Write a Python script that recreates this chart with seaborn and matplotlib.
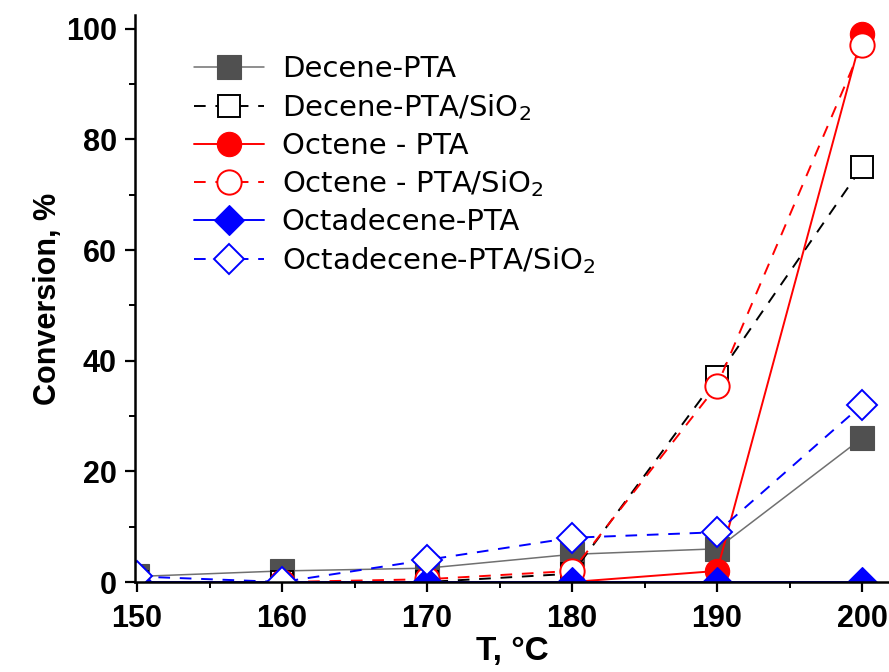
import numpy as np
import pandas as pd
import matplotlib
matplotlib.use("Agg")
import matplotlib.pyplot as plt
from matplotlib.ticker import MultipleLocator
import seaborn as sns

# Temperatures and conversions
temps = [150, 160, 170, 180, 190, 200]
decene_pta = [1, 2, 2.5, 5, 6, 26]
decene_pta_sio2 = [0, 0, 0, 1.5, 37, 75]
octene_pta = [0, 0, 0, 0, 2, 99]
octene_pta_sio2 = [0, 0, 0.5, 2, 35.5, 97]
octadecene_pta = [0, 0, 0, 0, 0, 0]
octadecene_pta_sio2 = [1, 0, 4, 8, 9, 32]

labels = ["Decene-PTA", "Decene-PTA/SiO$_2$", "Octene - PTA",
          "Octene - PTA/SiO$_2$", "Octadecene-PTA", "Octadecene-PTA/SiO$_2$"]

sns.set_style("ticks")
plt.rcParams['font.family'] = ['Liberation Sans', 'DejaVu Sans']
plt.rcParams['mathtext.default'] = 'regular'
for key in ['text.color', 'axes.labelcolor', 'xtick.color', 'ytick.color', 'axes.edgecolor']:
    plt.rcParams[key] = 'black'

fig = plt.figure(figsize=(8.89, 6.72), dpi=100)
ax = fig.add_axes([135 / 889, 1 - 582 / 672, 1 - 135 / 889, (582 - 15) / 672])

dash = (0, (6, 5))
# (values, line colour, marker colour, marker, size, filled, linestyle)
series = [
    (decene_pta, '#707070', '#505050', 's', 17, True, '-'),
    (decene_pta_sio2, 'black', 'black', 's', 16.5, False, dash),
    (octene_pta, 'red', 'red', 'o', 17.5, True, '-'),
    (octene_pta_sio2, 'red', 'red', 'o', 17.5, False, dash),
    (octadecene_pta, 'blue', 'blue', 'D', 15.5, True, '-'),
    (octadecene_pta_sio2, 'blue', 'blue', 'D', 15.5, False, dash),
]

for (vals, lc, mc, mk, ms, filled, ls), lab in zip(series, labels):
    df = pd.DataFrame({'T': temps, 'conv': vals})
    sns.lineplot(data=df, x='T', y='conv', ax=ax, color=lc, linestyle=ls,
                 linewidth=1.4 if lc != '#707070' else 1.1, marker=mk, markersize=ms,
                 markerfacecolor=mc if filled else 'white',
                 markeredgecolor=mc, markeredgewidth=1.4 if not filled else 0.8,
                 label=lab)

ax.set_xlim(149.86, 201.86)
ax.set_ylim(0, 102.5)
ax.xaxis.set_major_locator(MultipleLocator(10))
ax.xaxis.set_minor_locator(MultipleLocator(5))
ax.yaxis.set_major_locator(MultipleLocator(20))
ax.yaxis.set_minor_locator(MultipleLocator(10))

sns.despine(ax=ax)
for sp in ['left', 'bottom']:
    ax.spines[sp].set_linewidth(1.8)
ax.tick_params(which='major', length=7, width=1.6, direction='out', labelsize=22)
ax.tick_params(which='minor', length=4, width=1.4, direction='out')
ax.tick_params(axis='x', which='major', pad=9)
ax.tick_params(axis='y', which='major', pad=6)
for t in ax.get_xticklabels() + ax.get_yticklabels():
    t.set_fontweight('bold')

ax.set_xlabel('T, °C', fontsize=24, fontweight='bold', labelpad=1)
ax.set_ylabel('Conversion, %', fontsize=22, fontweight='bold', labelpad=2)

ax.legend(loc='upper left', bbox_to_anchor=(0.043, 0.975), frameon=False,
          prop={'family': 'DejaVu Sans', 'size': 21},
          handlelength=2.4, labelspacing=0.3, handletextpad=0.62)

fig.savefig('out.png', dpi=100)
